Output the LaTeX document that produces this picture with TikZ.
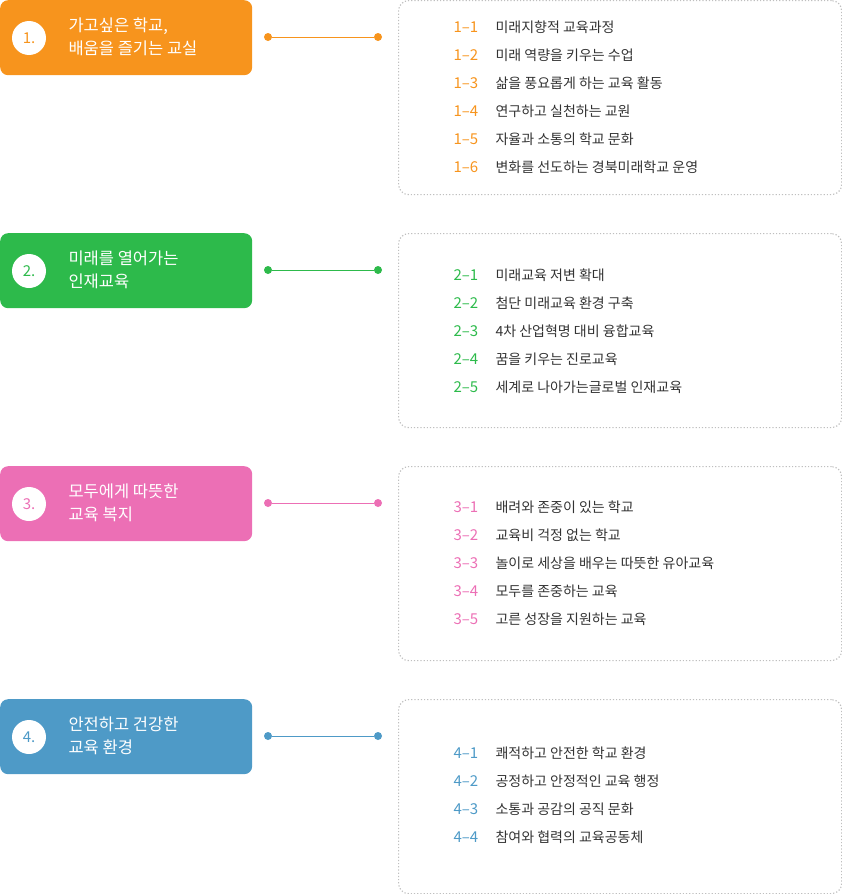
\documentclass[tikz,border=0pt]{standalone}
\usepackage{fontspec}
\setmainfont{Noto Sans CJK KR}
\usepackage{tikz}
\usetikzlibrary{positioning}
\definecolor{corange}{HTML}{F7941D}
\definecolor{cgreen}{HTML}{2DBA4B}
\definecolor{cpink}{HTML}{EC6FB5}
\definecolor{cblue}{HTML}{4E9AC7}
\tikzset{
	titlebox/.style={rounded corners=8pt,minimum width=252pt,minimum height=75pt,anchor=north west,inner sep=0pt},
	numdot/.style={circle,fill=white,minimum size=34pt,inner sep=0pt,font=\fontsize{15}{15}\selectfont},
	titletext/.style={anchor=west,align=left,text=white,font=\fontsize{16.5}{23}\selectfont},
	listbox/.style={draw=black!25,dotted,line width=1.2pt,rounded corners=10pt,anchor=north west,minimum width=443pt,minimum height=194pt},
	endpt/.style={circle,inner sep=0pt,minimum size=8pt},
	itemnum/.style={anchor=west,font=\fontsize{15}{15}\selectfont},
	itemtext/.style={anchor=west,text=black!80,font=\fontsize{14}{14}\selectfont}
}
\begin{document}
\begin{tikzpicture}[x=1pt,y=-1pt]
	\useasboundingbox (0,0) rectangle (842,894);
	% row 1
	\node [titlebox,fill=corange] (t1) at (0,0) {};
	\node [numdot,text=corange] (n1) at (29,38) {1.};
	\node [titletext] (l1) at (65,37) {가고싶은 학교,\\배움을 즐기는 교실};
	\node [endpt,fill=corange] (a1) at (268,37) {};
	\node [endpt,fill=corange] (b1) at (378,37) {};
	\draw [corange,line width=0.8pt] (a1) -- (b1);
	\node [listbox] (r1) at (398,0) {};
	\foreach \i/\s in {1/미래지향적 교육과정,2/미래 역량을 키우는 수업,3/삶을 풍요롭게 하는 교육 활동,4/연구하고 실천하는 교원,5/자율과 소통의 학교 문화,6/변화를 선도하는 경북미래학교 운영}{
		\node [itemnum,text=corange] at (450,27+28*\i-28) {1–\i};
		\node [itemtext] at (492,27+28*\i-28) {\s};
	}
	% row 2
	\node [titlebox,fill=cgreen] (t2) at (0,233) {};
	\node [numdot,text=cgreen] (n2) at (29,271) {2.};
	\node [titletext] (l2) at (65,270) {미래를 열어가는\\인재교육};
	\node [endpt,fill=cgreen] (a2) at (268,270) {};
	\node [endpt,fill=cgreen] (b2) at (378,270) {};
	\draw [cgreen,line width=0.8pt] (a2) -- (b2);
	\node [listbox] (r2) at (398,233) {};
	\foreach \i/\s in {1/미래교육 저변 확대,2/첨단 미래교육 환경 구축,3/4차 산업혁명 대비 융합교육,4/꿈을 키우는 진로교육,5/세계로 나아가는글로벌 인재교육}{
		\node [itemnum,text=cgreen] at (450,275+28*\i-28) {2–\i};
		\node [itemtext] at (492,275+28*\i-28) {\s};
	}
	% row 3
	\node [titlebox,fill=cpink] (t3) at (0,466) {};
	\node [numdot,text=cpink] (n3) at (29,504) {3.};
	\node [titletext] (l3) at (65,503) {모두에게 따뜻한\\교육 복지};
	\node [endpt,fill=cpink] (a3) at (268,503) {};
	\node [endpt,fill=cpink] (b3) at (378,503) {};
	\draw [cpink,line width=0.8pt] (a3) -- (b3);
	\node [listbox] (r3) at (398,466) {};
	\foreach \i/\s in {1/배려와 존중이 있는 학교,2/교육비 걱정 없는 학교,3/놀이로 세상을 배우는 따뜻한 유아교육,4/모두를 존중하는 교육,5/고른 성장을 지원하는 교육}{
		\node [itemnum,text=cpink] at (450,507+28*\i-28) {3–\i};
		\node [itemtext] at (492,507+28*\i-28) {\s};
	}
	% row 4
	\node [titlebox,fill=cblue] (t4) at (0,699) {};
	\node [numdot,text=cblue] (n4) at (29,737) {4.};
	\node [titletext] (l4) at (65,736) {안전하고 건강한\\교육 환경};
	\node [endpt,fill=cblue] (a4) at (268,736) {};
	\node [endpt,fill=cblue] (b4) at (378,736) {};
	\draw [cblue,line width=0.8pt] (a4) -- (b4);
	\node [listbox] (r4) at (398,699) {};
	\foreach \i/\s in {1/쾌적하고 안전한 학교 환경,2/공정하고 안정적인 교육 행정,3/소통과 공감의 공직 문화,4/참여와 협력의 교육공동체}{
		\node [itemnum,text=cblue] at (450,753+28*\i-28) {4–\i};
		\node [itemtext] at (492,753+28*\i-28) {\s};
	}
\end{tikzpicture}
\end{document}
